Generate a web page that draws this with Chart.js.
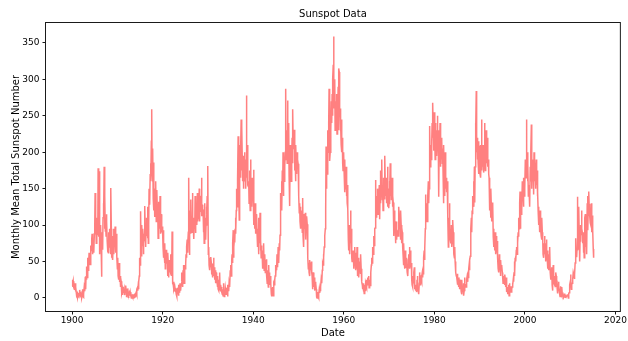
<!DOCTYPE html>
<html>
<head>
<meta charset="utf-8">
<script src="https://cdn.jsdelivr.net/npm/chart.js@4.4.0/dist/chart.umd.min.js"></script>
<style>
  body { margin: 0; background: #fff; }
  canvas { display: block; }
</style>
</head>
<body>
<canvas id="sunspotChart" width="628" height="341"></canvas>
<script>
// monthly mean total sunspot number (Jan 1900 - Mar 2015)
const startYear = 1900;
const sunspots = [
  16, 25, 18, 23, 13, 20, 12, 14, 20, 9, 15, 8,            // 1900
  0.5, 4, 6, 1, 3, 2, 7, 3, 11, 8, 2, 4,                   // 1901
  6, 1, 0, 3, 12, 2, 1, 5, 14, 20, 9, 29,                  // 1902
  12, 30, 25, 43, 28, 40, 55, 38, 48, 62, 57, 52,          // 1903
  46, 58, 72, 65, 80, 88, 60, 78, 70, 75, 62, 88,          // 1904
  97, 144, 94, 110, 75, 100, 110, 96, 86, 178, 92, 84,     // 1905
  174, 60, 90, 88, 100, 70, 29, 90, 75, 66, 110, 130,      // 1906
  110, 180, 95, 140, 92, 100, 85, 115, 105, 78, 70, 64,    // 1907
  62, 90, 70, 95, 70, 80, 60, 151, 95, 55, 58, 85,         // 1908
  52, 78, 95, 60, 85, 70, 98, 62, 75, 88, 60, 56,          // 1909
  40, 55, 30, 38, 25, 48, 22, 30, 15, 28, 23, 17,          // 1910
  6, 9, 4, 11, 15, 7, 12, 4, 8, 10, 17, 11,                // 1911
  1, 2, 8, 5, 13, 1, 6, 7, 10, 3, 8, 8,                    // 1912
  3, 0, 1, 3, 5, 1, 0, 2, 5, 1, 6, 2,                      // 1913
  3, 6, 8, 5, 12, 14, 10, 16, 12, 22, 30, 55,              // 1914
  45, 70, 119, 58, 85, 100, 72, 95, 88, 60, 75, 81,        // 1915
  80, 126, 90, 70, 102, 85, 110, 95, 82, 125, 75, 100,     // 1916
  150, 140, 128, 170, 185, 160, 215, 259, 175, 160, 205, 136, // 1917
  186, 120, 140, 111, 150, 125, 160, 105, 130, 148, 118, 122, // 1918
  82, 132, 110, 120, 95, 140, 100, 88, 115, 98, 90, 98,    // 1919
  88, 70, 93, 55, 62, 48, 75, 40, 58, 66, 50, 47,          // 1920
  58, 30, 62, 45, 28, 52, 40, 35, 48, 60, 33, 31,          // 1921
  35, 91, 28, 20, 18, 22, 12, 15, 9, 13, 8, 13,            // 1922
  5, 8, 2, 14, 6, 10, 3, 18, 11, 7, 20, 12,                // 1923
  10, 18, 35, 22, 30, 15, 38, 25, 45, 20, 32, 45,          // 1924
  40, 47, 60, 55, 70, 80, 62, 75, 90, 165, 85, 59,         // 1925
  95, 120, 88, 135, 100, 112, 90, 144, 105, 98, 110, 81,   // 1926
  110, 95, 140, 89, 125, 118, 130, 100, 144, 105, 112, 108, // 1927
  120, 150, 105, 140, 118, 135, 140, 165, 112, 128, 122, 121, // 1928
  90, 118, 75, 130, 95, 110, 80, 100, 125, 115, 140, 120,  // 1929
  181, 60, 70, 45, 55, 38, 50, 42, 56, 48, 32, 36,         // 1930
  28, 47, 40, 55, 30, 42, 25, 38, 33, 20, 35, 28,          // 1931
  22, 15, 30, 12, 25, 10, 20, 35, 14, 9, 18, 13,           // 1932
  15, 8, 5, 12, 3, 20, 6, 2, 11, 4, 14, 10,                // 1933
  5, 10, 8, 14, 2, 18, 12, 9, 20, 25, 15, 37,              // 1934
  38, 45, 30, 52, 60, 48, 75, 93, 55, 70, 80, 76,          // 1935
  95, 110, 88, 120, 150, 125, 140, 162, 222, 130, 145, 107, // 1936
  180, 210, 165, 200, 245, 175, 236, 190, 160, 195, 150, 181, // 1937
  170, 200, 160, 190, 150, 175, 278, 165, 210, 185, 155, 153, // 1938
  160, 130, 175, 145, 120, 190, 140, 155, 125, 165, 135, 136, // 1939
  140, 176, 100, 120, 95, 130, 105, 88, 115, 110, 90, 87,  // 1940
  70, 95, 60, 110, 85, 75, 117, 65, 80, 55, 72, 66,        // 1941
  55, 40, 65, 48, 75, 38, 47, 60, 35, 52, 42, 53,          // 1942
  30, 20, 38, 25, 15, 45, 22, 35, 18, 28, 30, 19,          // 1943
  5, 2, 10, 8, 15, 3, 12, 20, 18, 25, 30, 45,              // 1944
  30, 45, 38, 60, 50, 42, 70, 55, 48, 75, 65, 86,          // 1945
  110, 144, 130, 160, 120, 175, 150, 200, 140, 185, 160, 178, // 1946
  180, 200, 287, 190, 230, 210, 185, 271, 220, 195, 240, 168, // 1947
  175, 126, 210, 180, 200, 160, 190, 220, 185, 259, 205, 206, // 1948
  208, 231, 175, 195, 160, 210, 185, 170, 200, 180, 190, 184, // 1949
  158, 140, 117, 130, 105, 125, 95, 120, 100, 110, 90, 137, // 1950
  85, 110, 70, 115, 95, 100, 117, 80, 105, 90, 112, 101,   // 1951
  70, 55, 40, 48, 35, 52, 30, 45, 38, 42, 50, 35,          // 1952
  30, 12, 25, 35, 18, 15, 28, 10, 22, 14, 20, 12,          // 1953
  1, 0, 8, 4, 2, 0, 5, 12, 7, 10, 15, 15,                  // 1954
  25, 30, 20, 38, 47, 45, 60, 55, 70, 80, 85, 95,          // 1955
  120, 208, 150, 180, 170, 210, 230, 200, 240, 287, 225, 188, // 1956
  200, 250, 230, 270, 240, 280, 250, 300, 320, 359, 260, 273, // 1957
  300, 230, 270, 240, 250, 280, 225, 265, 245, 290, 230, 315, // 1958
  310, 250, 260, 230, 240, 210, 245, 200, 220, 185, 175, 176, // 1959
  200, 170, 145, 190, 150, 165, 180, 140, 160, 130, 155, 123, // 1960
  80, 65, 100, 70, 60, 90, 120, 75, 95, 55, 50, 57,        // 1961
  50, 65, 40, 58, 45, 70, 48, 55, 38, 62, 40, 70,          // 1962
  30, 45, 35, 55, 28, 42, 38, 50, 33, 60, 40, 23,          // 1963
  22, 18, 12, 20, 9, 15, 6, 12, 18, 10, 20, 18,            // 1964
  25, 15, 20, 28, 22, 18, 30, 14, 20, 25, 17, 30,          // 1965
  35, 45, 55, 48, 62, 70, 60, 78, 85, 72, 95, 96,          // 1966
  162, 120, 140, 110, 135, 125, 150, 115, 145, 130, 155, 108, // 1967
  140, 175, 130, 160, 145, 190, 135, 155, 120, 165, 140, 145, // 1968
  135, 195, 150, 140, 165, 130, 155, 145, 180, 125, 150, 123, // 1969
  130, 160, 145, 185, 140, 170, 135, 150, 165, 125, 140, 131, // 1970
  110, 85, 120, 90, 100, 75, 95, 105, 80, 92, 88, 93,      // 1971
  85, 90, 125, 110, 95, 105, 80, 120, 100, 75, 96, 90,     // 1972
  70, 60, 45, 75, 52, 48, 40, 65, 50, 42, 55, 47,          // 1973
  35, 45, 30, 52, 60, 48, 70, 40, 55, 65, 42, 48,          // 1974
  25, 18, 30, 15, 28, 20, 35, 42, 12, 18, 10, 17,          // 1975
  12, 8, 25, 30, 15, 10, 12, 5, 20, 35, 18, 31,            // 1976
  20, 25, 22, 30, 35, 28, 40, 32, 55, 65, 52, 68,          // 1977
  95, 142, 110, 130, 120, 105, 125, 140, 160, 130, 150, 165, // 1978
  236, 180, 210, 200, 190, 215, 240, 220, 268, 230, 250, 202, // 1979
  255, 220, 190, 240, 200, 230, 195, 210, 250, 205, 230, 202, // 1980
  139, 230, 210, 240, 180, 200, 220, 190, 215, 185, 205, 173, // 1981
  130, 210, 170, 140, 180, 200, 150, 165, 145, 155, 160, 144, // 1982
  111, 70, 85, 110, 130, 95, 80, 90, 75, 100, 70, 76,      // 1983
  80, 107, 90, 75, 60, 55, 70, 50, 45, 35, 30, 29,         // 1984
  25, 33, 18, 22, 28, 15, 20, 12, 25, 18, 22, 9,           // 1985
  5, 25, 12, 8, 15, 20, 3, 10, 28, 18, 15, 19,             // 1986
  15, 20, 25, 30, 22, 35, 28, 40, 45, 38, 52, 57,          // 1987
  80, 95, 110, 90, 120, 115, 140, 130, 160, 125, 180, 131, // 1988
  180, 240, 230, 284, 200, 220, 190, 210, 185, 215, 170, 209, // 1989
  200, 170, 210, 165, 190, 245, 175, 200, 180, 210, 185, 172, // 1990
  190, 240, 220, 175, 205, 230, 185, 210, 195, 220, 180, 190, // 1991
  170, 165, 140, 120, 135, 110, 150, 125, 105, 130, 115, 131, // 1992
  84, 95, 70, 80, 65, 90, 60, 75, 85, 62, 78, 69,          // 1993
  55, 40, 50, 35, 60, 42, 48, 30, 52, 38, 45, 44,          // 1994
  35, 28, 20, 30, 25, 22, 18, 32, 25, 15, 28, 23,          // 1995
  8, 15, 10, 5, 12, 18, 3, 20, 10, 8, 16, 14,              // 1996
  8, 12, 15, 20, 18, 25, 22, 35, 50, 30, 55, 57,           // 1997
  50, 65, 70, 60, 85, 75, 90, 84, 110, 95, 130, 146,       // 1998
  95, 130, 115, 140, 120, 160, 145, 150, 125, 165, 140, 151, // 1999
  150, 190, 180, 165, 245, 170, 200, 160, 185, 140, 155, 147, // 2000
  145, 125, 180, 160, 200, 238, 150, 175, 190, 160, 180, 142, // 2001
  200, 175, 160, 185, 150, 170, 190, 155, 175, 140, 145, 119, // 2002
  125, 100, 110, 90, 120, 105, 95, 85, 80, 110, 90, 82,    // 2003
  60, 75, 55, 70, 85, 60, 75, 50, 65, 80, 55, 54,          // 2004
  65, 40, 55, 38, 60, 45, 70, 35, 40, 25, 35, 42,          // 2005
  18, 10, 25, 45, 28, 20, 18, 22, 30, 15, 35, 30,          // 2006
  20, 15, 8, 6, 18, 22, 15, 10, 5, 2, 16, 14,              // 2007
  5, 3, 15, 5, 4, 5, 1, 0.5, 2, 4, 6, 1,                   // 2008
  2, 1, 1, 1, 4, 5, 4, 0, 6, 7, 7, 18,                     // 2009
  22, 32, 20, 12, 18, 20, 26, 25, 35, 33, 30, 26,          // 2010
  32, 48, 80, 82, 62, 56, 66, 139, 106, 67, 110, 125,      // 2011
  82, 50, 78, 85, 100, 87, 120, 95, 90, 75, 90, 62,        // 2012
  90, 55, 80, 110, 115, 70, 90, 95, 60, 130, 140, 93,      // 2013
  128, 146, 129, 112, 113, 103, 100, 107, 130, 90, 104, 113, // 2014
  93, 67, 55                                               // 2015
];

const xTicks = [1900, 1920, 1940, 1960, 1980, 2000, 2020];
const yTicks = [0, 50, 100, 150, 200, 250, 300, 350];

const puntos = sunspots.map(function (v, i) {
    return { x: startYear + i / 12, y: v };
});

const fonte = 'DejaVu Sans';

// moldura + titulo, como no matplotlib
const molduraPlugin = {
    id: 'moldura',
    afterDraw(chart) {
        const ctx = chart.ctx;
        const a = chart.chartArea;
        ctx.save();
        ctx.strokeStyle = '#1a1a1a';
        ctx.lineWidth = 1;
        ctx.strokeRect(a.left - 0.5, a.top - 0.5, a.right - a.left + 1, a.bottom - a.top + 1);
        ctx.fillStyle = '#000';
        ctx.font = '10px "' + fonte + '"';
        ctx.textAlign = 'center';
        ctx.textBaseline = 'middle';
        ctx.fillText('Sunspot Data', (a.left + a.right) / 2, 14.5);
        ctx.restore();
    }
};

new Chart(document.getElementById('sunspotChart'), {
    type: 'line',
    data: {
        datasets: [{
            data: puntos,
            borderColor: '#ff8080',
            borderWidth: 1.5,
            pointRadius: 0,
            tension: 0,
            fill: false
        }]
    },
    options: {
        responsive: false,
        animation: false,
        devicePixelRatio: 1,
        layout: { padding: { left: 0, right: 4, top: 23, bottom: 2 } },
        plugins: {
            legend: { display: false },
            tooltip: { enabled: false }
        },
        scales: {
            x: {
                type: 'linear',
                min: 1894.24,
                max: 2020.96,
                afterBuildTicks: function (s) { s.ticks = xTicks.map(v => ({ value: v })); },
                afterFit: function (s) { s.height = 28; },
                ticks: {
                    autoSkip: false,
                    maxRotation: 0,
                    padding: 1,
                    color: '#000',
                    font: { family: fonte, size: 9 },
                    callback: v => String(v)
                },
                grid: { drawOnChartArea: false, drawTicks: true, tickLength: 3.5, tickColor: '#1a1a1a' },
                border: { display: false },
                title: { display: true, text: 'Date', color: '#000', font: { family: fonte, size: 10 }, padding: { top: 0, bottom: 0 } }
            },
            y: {
                min: -18,
                max: 377.4,
                afterBuildTicks: function (s) { s.ticks = yTicks.map(v => ({ value: v })); },
                afterFit: function (s) { s.width = 46; },
                ticks: {
                    padding: 3,
                    color: '#000',
                    font: { family: fonte, size: 9 },
                    callback: v => String(v)
                },
                grid: { drawOnChartArea: false, drawTicks: true, tickLength: 3.5, tickColor: '#1a1a1a' },
                border: { display: false },
                title: { display: true, text: 'Monthly Mean Total Sunspot Number', color: '#000', font: { family: fonte, size: 10 }, padding: { top: 10, bottom: 0 } }
            }
        }
    },
    plugins: [molduraPlugin]
});
</script>
</body>
</html>
